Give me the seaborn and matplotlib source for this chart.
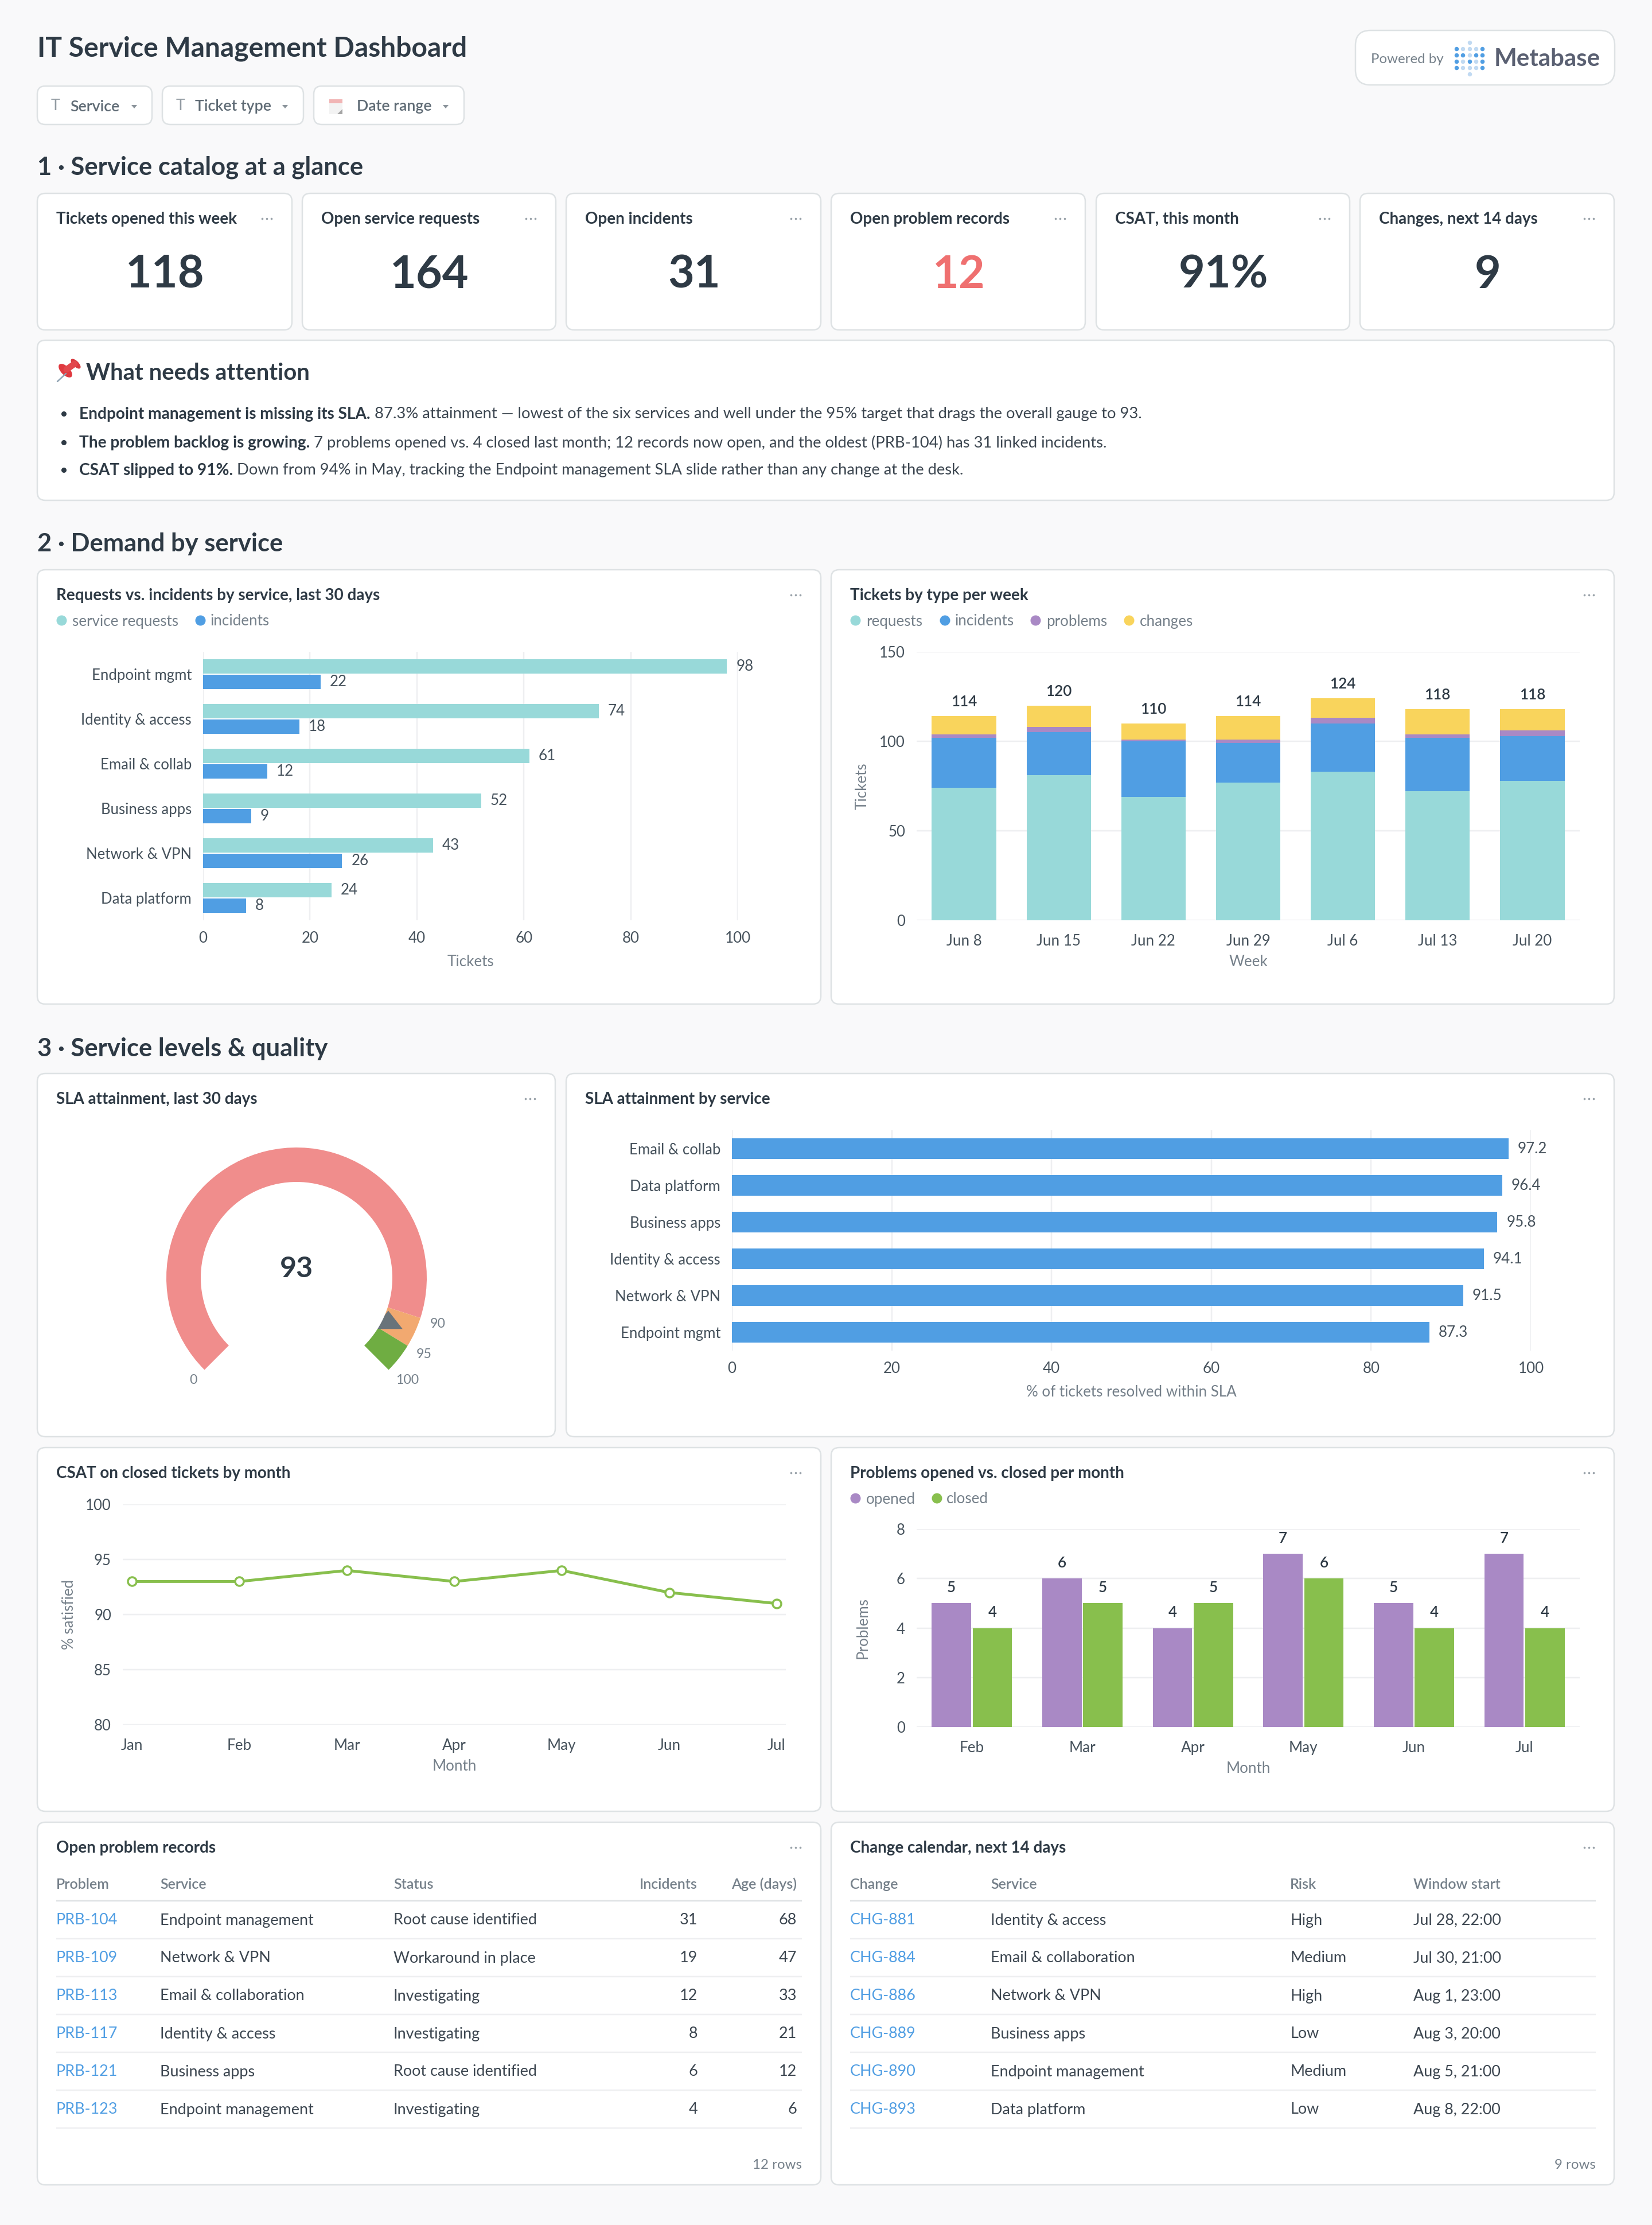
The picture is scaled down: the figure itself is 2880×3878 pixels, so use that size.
# IT Service Management dashboard rebuilt with seaborn
import matplotlib
matplotlib.use("Agg")
import matplotlib.pyplot as plt
from matplotlib.patches import Circle, Ellipse, FancyBboxPatch, Polygon, Rectangle, Wedge
import numpy as np
import pandas as pd
import seaborn as sns

W, H = 2880, 3878

# --- data ---
kpi_titles = ["Tickets opened this week", "Open service requests", "Open incidents",
              "Open problem records", "CSAT, this month", "Changes, next 14 days"]
kpi_values = ["118", "164", "31", "12", "91%", "9"]

services_short = ["Endpoint mgmt", "Identity & access", "Email & collab",
                  "Business apps", "Network & VPN", "Data platform"]
service_requests = [98, 74, 61, 52, 43, 24]
service_incidents = [22, 18, 12, 9, 26, 8]

weeks = ["Jun 8", "Jun 15", "Jun 22", "Jun 29", "Jul 6", "Jul 13", "Jul 20"]
week_requests = [74, 81, 69, 77, 83, 72, 78]
week_incidents = [28, 24, 31, 22, 27, 30, 25]
week_problems = [2, 3, 1, 2, 3, 2, 3]
week_changes = [10, 12, 9, 13, 11, 14, 12]

sla_services = ["Email & collab", "Data platform", "Business apps",
                "Identity & access", "Network & VPN", "Endpoint mgmt"]
sla_values = [97.2, 96.4, 95.8, 94.1, 91.5, 87.3]

gauge_value = 93
gauge_stops = [0, 90, 95, 100]

csat_months = ["Jan", "Feb", "Mar", "Apr", "May", "Jun", "Jul"]
csat_values = [93, 93, 94, 93, 94, 92, 91]

problem_months = ["Feb", "Mar", "Apr", "May", "Jun", "Jul"]
problems_opened = [5, 6, 4, 7, 5, 7]
problems_closed = [4, 5, 5, 6, 4, 4]

prb_columns = ["Problem", "Service", "Status", "Incidents", "Age (days)"]
prb_ids = ["PRB-104", "PRB-109", "PRB-113", "PRB-117", "PRB-121", "PRB-123"]
prb_services = ["Endpoint management", "Network & VPN", "Email & collaboration",
                "Identity & access", "Business apps", "Endpoint management"]
prb_status = ["Root cause identified", "Workaround in place", "Investigating",
              "Investigating", "Root cause identified", "Investigating"]
prb_incidents = [31, 19, 12, 8, 6, 4]
prb_age = [68, 47, 33, 21, 12, 6]

chg_columns = ["Change", "Service", "Risk", "Window start"]
chg_ids = ["CHG-881", "CHG-884", "CHG-886", "CHG-889", "CHG-890", "CHG-893"]
chg_services = ["Identity & access", "Email & collaboration", "Network & VPN",
                "Business apps", "Endpoint management", "Data platform"]
chg_risk = ["High", "Medium", "High", "Low", "Medium", "Low"]
chg_window = ["Jul 28, 22:00", "Jul 30, 21:00", "Aug 1, 23:00",
              "Aug 3, 20:00", "Aug 5, 21:00", "Aug 8, 22:00"]

attention = [
    ("Endpoint management is missing its SLA.",
     "87.3% attainment — lowest of the six services and well under the 95% target that drags the overall gauge to 93."),
    ("The problem backlog is growing.",
     "7 problems opened vs. 4 closed last month; 12 records now open, and the oldest (PRB-104) has 31 linked incidents."),
    ("CSAT slipped to 91%.",
     "Down from 94% in May, tracking the Endpoint management SLA slide rather than any change at the desk."),
]

# --- colours ---
BG = "#F9F9FA"
BORDER = "#DEE2E4"
GRID = "#EEEFF1"
DARK = "#2E3A45"
TICK = "#46525C"
MUTED = "#75808A"
TEAL = "#98D9D9"
BLUE = "#509EE3"
PURPLE = "#A989C5"
YELLOW = "#F9D45C"
GREEN = "#88BF4D"
RED_KPI = "#EF7070"

sns.set_theme(style="white")
plt.rcParams["font.family"] = ["Lato", "DejaVu Sans"]


def fs(px):
    # pixel size to points at dpi 100
    return px * 0.72


fig = plt.figure(figsize=(W / 100, H / 100), dpi=100, facecolor=BG)
page = fig.add_axes([0, 0, 1, 1], zorder=0)
page.set_xlim(0, W)
page.set_ylim(H, 0)
page.axis("off")
renderer = fig.canvas.get_renderer()


def txt(x, y, s, size, color=TICK, weight="normal", ha="left", va="center"):
    # +2: centre of the text box sits a little high compared to the browser
    return page.text(x, y + 2, s, fontsize=fs(size), color=color, fontweight=weight, ha=ha, va=va)


def box(x0, y0, x1, y1, r=14):
    page.add_patch(FancyBboxPatch((x0 + r, y0 + r), x1 - x0 - 2 * r, y1 - y0 - 2 * r,
                                  boxstyle=f"round,pad={r},rounding_size={r}",
                                  fc="white", ec=BORDER, lw=fs(2.5)))


def card(x0, y0, x1, y1, title=None, dots=True):
    box(x0, y0, x1, y1)
    if title:
        txt(x0 + 33, y0 + 43, title, 27.8, DARK, "bold")
    if dots:
        page.scatter([x1 - 52, x1 - 44, x1 - 36], [y0 + 44] * 3, s=7, color="#9AA3AA", linewidths=0)


def legend(items, y):
    for dot_x, text_x, color, label in items:
        page.scatter([dot_x], [y], s=fs(18) ** 2, color=color, linewidths=0)
        txt(text_x, y, label, 26, MUTED)


def chart_ax(x0, y0, x1, y1):
    ax = fig.add_axes([x0 / W, 1 - y1 / H, (x1 - x0) / W, (y1 - y0) / H], zorder=1)
    ax.patch.set_alpha(0)
    return ax


def style(ax, grid_axis, xlabel, ylabel, box_px, xlabel_y=None, ylabel_x=None, pad_x=14, pad_y=14.4):
    x0, y0, x1, y1 = box_px
    sns.despine(ax=ax, left=True, bottom=True)
    ax.set_axisbelow(True)
    ax.grid(axis=grid_axis, color=GRID, lw=fs(2.5))
    ax.tick_params(axis="x", length=0, pad=pad_x, labelsize=fs(26), labelcolor=TICK)
    ax.tick_params(axis="y", length=0, pad=pad_y, labelsize=fs(25.8), labelcolor=TICK)
    ax.set_xlabel(xlabel, fontsize=fs(26), color=MUTED, va="center")
    ax.set_ylabel(ylabel, fontsize=fs(26), color=MUTED, va="center")
    if xlabel_y is not None:
        ax.xaxis.set_label_coords(0.5, -(xlabel_y - y1) / (y1 - y0))
    if ylabel_x is not None:
        ax.yaxis.set_label_coords((ylabel_x - x0) / (x1 - x0), 0.5)


# --- header ---
txt(65, 83, "IT Service Management Dashboard", 48, DARK, "bold")

box(2363, 53, 2815, 148, r=26)
txt(2390, 101, "Powered by", 24, MUTED)
logo_x = [2539, 2550, 2562, 2573, 2584]
logo_y = [85, 96, 107, 118]
logo_on = [[1, 0, 0, 0, 1], [1, 1, 0, 1, 1], [1, 0, 1, 0, 1], [1, 0, 0, 0, 1]]
for row, yy in zip(logo_on, logo_y):
    for on, xx in zip(row, logo_x):
        page.scatter([xx], [yy], s=fs(7.5) ** 2, color=BLUE if on else "#C1DAF2", linewidths=0)
page.scatter([2562, 2562], [74, 129], s=fs(7.5) ** 2, color="#C1DAF2", linewidths=0)
txt(2605, 101, "Metabase", 42, "#5A6072", "bold")

for (x0, x1, tx, label, caret) in [(65, 265, 122, "Service", 234),
                                   (283, 529, 340, "Ticket type", 497),
                                   (547, 809, 622, "Date range", 777)]:
    box(x0, 150, x1, 217, r=14)
    txt(tx, 184, label, 26.8, "#5F6B75", 600)
    page.add_patch(Polygon([(caret - 5, 183), (caret + 5, 183), (caret, 189)], fc="#8B949B", ec="none"))
txt(97, 183, "T", 27, "#929BA2", "normal", ha="center")
txt(315, 183, "T", 27, "#929BA2", "normal", ha="center")
# calendar icon
page.add_patch(Rectangle((574, 173), 23, 26, fc="#F3F3F3", ec="none"))
page.add_patch(Rectangle((574, 173), 23, 7, fc="#F1B5B5", ec="none"))
page.add_patch(Polygon([(597, 190), (597, 199), (588, 199)], fc="#A5A5A5", ec="none"))

# --- section 1 ---
txt(65, 290, "1 · Service catalog at a glance", 43.5, DARK, "bold")
kpi_x = [(65, 509), (527, 969), (987, 1431), (1449, 1892), (1911, 2353), (2371, 2814)]
for (x0, x1), title, value in zip(kpi_x, kpi_titles, kpi_values):
    card(x0, 337, x1, 575, title)
    color = RED_KPI if value == "12" else DARK
    txt((x0 + x1) / 2 + 1, 478, value, 79, color, "bold", ha="center")

card(65, 593, 2814, 872, dots=False)
# pin emoji
page.plot([100, 115], [665, 651], color="#8FA3B3", lw=fs(2.5), solid_capstyle="round")
page.add_patch(Ellipse((114, 646), 30, 15, angle=45, fc="#E0393F", ec="none"))
page.plot([116, 130], [644, 634], color="#E2474C", lw=fs(11), solid_capstyle="round")
page.add_patch(Ellipse((132, 634), 22, 10, angle=45, fc="#D93A40", ec="none"))
txt(150, 648, "What needs attention", 40, DARK, "bold")
for (lead, rest), yy in zip(attention, [720, 770, 818]):
    page.scatter([111], [yy + 1], s=fs(9) ** 2, color=DARK, linewidths=0)
    t = txt(138, yy, lead, 28, DARK, "bold")
    end = t.get_window_extent(renderer).x1
    txt(end + 7, yy, rest, 27.4, "#3C4650")

# --- section 2 ---
txt(65, 946, "2 · Demand by service", 43.5, DARK, "bold")

card(65, 993, 1431, 1750, "Requests vs. incidents by service, last 30 days")
legend([(107, 126, TEAL, "service requests"), (349, 367, BLUE, "incidents")], 1081)
box_px = (354, 1136, 1286, 1604)
ax = chart_ax(*box_px)
df_service = pd.DataFrame({"service": services_short * 2,
                           "tickets": service_requests + service_incidents,
                           "type": ["service requests"] * 6 + ["incidents"] * 6})
sns.barplot(data=df_service, y="service", x="tickets", hue="type", ax=ax, orient="h",
            palette=[TEAL, BLUE], saturation=1, width=0.69, gap=0.04, legend=False, linewidth=0)
ax.set_xlim(0, 100)
ax.set_xticks([0, 20, 40, 60, 80, 100])
style(ax, "x", "Tickets", "", box_px, xlabel_y=1677)
for c in ax.containers:
    ax.bar_label(c, padding=fs(16), fontsize=fs(26), color=TICK)
ax.axvline(0, color=GRID, lw=fs(2.5), zorder=0)

card(1449, 993, 2814, 1750, "Tickets by type per week")
legend([(1491, 1510, TEAL, "requests"), (1647, 1665, BLUE, "incidents"),
        (1805, 1824, PURPLE, "problems"), (1968, 1987, YELLOW, "changes")], 1081)
box_px = (1598, 1136, 2754, 1604)
ax = chart_ax(*box_px)
bottom = np.zeros(len(weeks))
for series, color in [(week_requests, TEAL), (week_incidents, BLUE),
                      (week_problems, PURPLE), (week_changes, YELLOW)]:
    sns.barplot(x=weeks, y=series, bottom=bottom, color=color, saturation=1, width=0.68,
                ax=ax, linewidth=0)
    bottom = bottom + np.array(series)
ax.set_ylim(0, 150)
ax.set_yticks([0, 50, 100, 150])
style(ax, "y", "Week", "Tickets", box_px, xlabel_y=1677, ylabel_x=1503, pad_x=17)
for i, total in enumerate(bottom):
    ax.annotate(f"{int(total)}", (i, total), xytext=(0, fs(12)), textcoords="offset points",
                ha="center", va="bottom", fontsize=fs(26), color=DARK, fontweight=600)

# --- section 3 ---
txt(65, 1826, "3 · Service levels & quality", 43.5, DARK, "bold")

card(65, 1871, 968, 2504, "SLA attainment, last 30 days")
ax = chart_ax(517 - 300, 2227 - 300, 517 + 300, 2227 + 300)
ax.set_xlim(-300, 300)
ax.set_ylim(-300, 300)
ax.axis("off")


def gauge_angle(v):
    return 225 - 2.7 * v


for lo, hi, color in zip(gauge_stops[:-1], gauge_stops[1:], ["#F08D8C", "#F2A970", "#6FAD42"]):
    ax.add_patch(Wedge((0, 0), 227, gauge_angle(hi), gauge_angle(lo), width=227, fc=color, ec="none"))
theta = np.radians(gauge_angle(gauge_value))
px_c, py_c = 178 * np.cos(theta), 178 * np.sin(theta)
ax.add_patch(Polygon([(px_c, py_c + 21), (px_c - 25, py_c - 11), (px_c + 25, py_c - 11)],
                     fc="#69737A", ec="none", zorder=2))
ax.add_patch(Circle((0, 0), 167, fc="white", ec="none", zorder=3))
ax.text(0, 16, str(gauge_value), fontsize=fs(50), color=DARK, fontweight="bold",
        ha="center", va="center", zorder=4)
for v in gauge_stops:
    a = np.radians(gauge_angle(v))
    ax.text(245 * np.cos(a), 245 * np.sin(a) - 5, str(v), fontsize=fs(23), color=MUTED,
            ha="right" if v == 0 else "left", va="center", zorder=4)

card(987, 1871, 2814, 2504, "SLA attainment by service")
box_px = (1276, 1970, 2669, 2354)
ax = chart_ax(*box_px)
sns.barplot(x=sla_values, y=sla_services, color=BLUE, saturation=1, width=0.56, ax=ax,
            orient="h", linewidth=0)
ax.set_xlim(0, 100)
ax.set_xticks([0, 20, 40, 60, 80, 100])
style(ax, "x", "% of tickets resolved within SLA", "", box_px, xlabel_y=2427)
for c in ax.containers:
    ax.bar_label(c, fmt="%.1f", padding=fs(16), fontsize=fs(26), color=TICK)
ax.axvline(0, color=GRID, lw=fs(2.5), zorder=0)

card(65, 2523, 1431, 3157, "CSAT on closed tickets by month")
box_px = (214, 2622, 1370, 3006)
ax = chart_ax(*box_px)
sns.lineplot(x=csat_months, y=csat_values, sort=False, color=GREEN, lw=fs(5), marker="o",
             markersize=fs(15), markerfacecolor="white", markeredgecolor=GREEN,
             markeredgewidth=fs(3.5), ax=ax, clip_on=False)
ax.set_xlim(-16 / 187.3, 6 + 16 / 187.3)
ax.set_ylim(80, 100)
ax.set_yticks([80, 85, 90, 95, 100])
style(ax, "y", "Month", "% satisfied", box_px, xlabel_y=3079, ylabel_x=120, pad_x=17)

card(1449, 2523, 2814, 3157, "Problems opened vs. closed per month")
legend([(1491, 1510, PURPLE, "opened"), (1633, 1650, GREEN, "closed")], 2611)
box_px = (1598, 2665, 2754, 3010)
ax = chart_ax(*box_px)
df_problems = pd.DataFrame({"month": problem_months * 2,
                            "count": problems_opened + problems_closed,
                            "kind": ["opened"] * 6 + ["closed"] * 6})
sns.barplot(data=df_problems, x="month", y="count", hue="kind", ax=ax, palette=[PURPLE, GREEN],
            saturation=1, width=0.74, gap=0.04, legend=False, linewidth=0)
ax.set_ylim(0, 8)
ax.set_yticks([0, 2, 4, 6, 8])
style(ax, "y", "Month", "Problems", box_px, xlabel_y=3083, ylabel_x=1504, pad_x=17)
for c in ax.containers:
    ax.bar_label(c, padding=fs(14), fontsize=fs(26), color=DARK, fontweight=600)


# --- tables ---
def table(x0, x1, headers, header_x, aligns, columns, footer):
    y_head, y_rule, y_first, pitch = 3282, 3313, 3345, 66
    for h, xx, al in zip(headers, header_x, aligns):
        txt(xx, y_head, h, 25, MUTED, 600, ha=al)
    page.plot([x0, x1], [y_rule, y_rule], color="#DFE2E4", lw=fs(2.5), solid_capstyle="butt")
    for i in range(6):
        yy = y_first + i * pitch
        for j, (col, xx, al) in enumerate(zip(columns, header_x, aligns)):
            txt(xx, yy, str(col[i]), 27, BLUE if j == 0 else "#3C4650", ha=al)
        page.plot([x0, x1], [yy + 34, yy + 34], color=GRID, lw=fs(2.5), solid_capstyle="butt")
    txt(x1, 3772, footer, 24, MUTED, ha="right")


card(65, 3176, 1431, 3808, "Open problem records")
table(98, 1398, prb_columns, [98, 279, 686, 1216, 1389], ["left", "left", "left", "right", "right"],
      [prb_ids, prb_services, prb_status, prb_incidents, prb_age], "12 rows")

card(1449, 3176, 2814, 3808, "Change calendar, next 14 days")
table(1482, 2782, chg_columns, [1482, 1727, 2249, 2464], ["left"] * 4,
      [chg_ids, chg_services, chg_risk, chg_window], "9 rows")

fig.savefig("out.png", dpi=100, facecolor=BG)
